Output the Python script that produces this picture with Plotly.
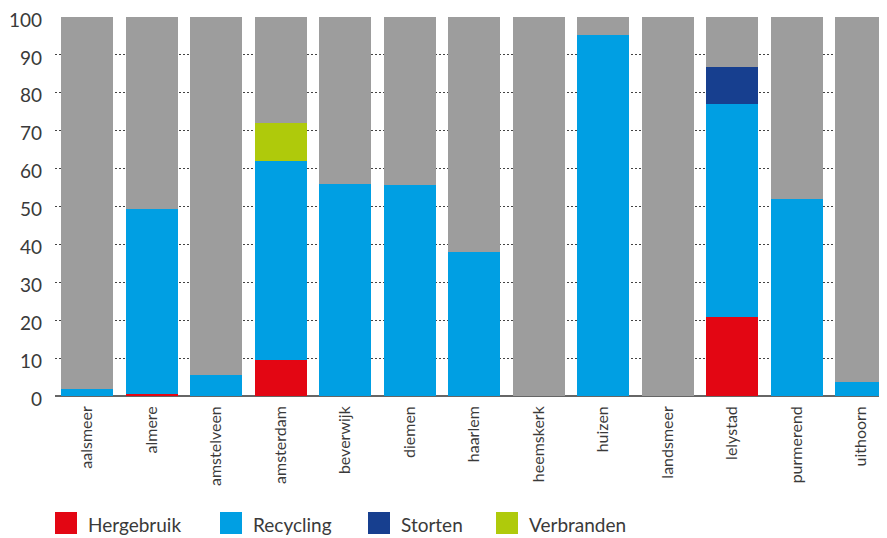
import plotly.graph_objects as go

categories = ["aalsmeer", "almere", "amstelveen", "amsterdam", "beverwijk", "diemen",
              "haarlem", "heemskerk", "huizen", "landsmeer", "lelystad", "purmerend", "uithoorn"]
hergebruik = [0, 0.4, 0, 9.5, 0, 0, 0, 0, 0, 0, 20.8, 0, 0]
recycling = [1.8, 48.9, 5.5, 52.5, 56.0, 55.8, 38.0, 0, 95.2, 0, 56.2, 52.0, 3.8]
storten = [0, 0, 0, 0, 0, 0, 0, 0, 0, 0, 9.8, 0, 0]
verbranden = [0, 0, 0, 10.0, 0, 0, 0, 0, 0, 0, 0, 0, 0]
rest = [round(100 - a - b - c - d, 2) for a, b, c, d in zip(hergebruik, recycling, storten, verbranden)]

series_names = ["Hergebruik", "Recycling", "Storten", "Verbranden"]
colors = ["#e30613", "#009fe3", "#173f8f", "#afca0b"]
rest_color = "#9d9d9d"
yticks = list(range(0, 101, 10))

FONT = "Lato"
OFF = 8  # page body margin
W, H = 887 - OFF, 538 - OFF
ML, MT = 55 - OFF, 17 - OFF
MR = 0
MB = H - (396 - OFF)

fig = go.Figure()
for name, vals, col in zip(series_names, [hergebruik, recycling, storten, verbranden], colors):
    fig.add_trace(go.Bar(x=categories, y=vals, name=name, marker=dict(color=col, line=dict(width=0)),
                         showlegend=False))
fig.add_trace(go.Bar(x=categories, y=rest, name="overig", marker=dict(color=rest_color, line=dict(width=0)),
                     showlegend=False))

# manual legend (screen pixel -> paper helpers)
pw = W - ML - MR
ph = H - MT - MB
def px(x):
    return (x - OFF - ML) / pw
def py(y):
    return (H - MB - (y - OFF)) / ph

legend_sq = [55, 220, 368, 496]
for xs, name, col in zip(legend_sq, series_names, colors):
    fig.add_shape(type="rect", xref="paper", yref="paper",
                  x0=px(xs), x1=px(xs + 22), y0=py(534), y1=py(512),
                  fillcolor=col, line=dict(width=0))
    fig.add_annotation(xref="paper", yref="paper", x=px(xs + 31), y=py(524),
                       text=name, showarrow=False, xanchor="left", yanchor="middle",
                       font=dict(family=FONT, size=19, color="#3a3a3a"))

fig.update_layout(
    barmode="stack",
    bargap=0.19,
    width=W, height=H,
    margin=dict(l=ML, r=MR, t=MT, b=MB, pad=0, autoexpand=False),
    plot_bgcolor="white", paper_bgcolor="white",
    font=dict(family=FONT, color="#3a3a3a"),
    showlegend=False,
)
fig.update_xaxes(range=[-0.5, 12.4], tickangle=-90, tickfont=dict(size=16, color="#3a3a3a"),
                 showgrid=False, showline=False, ticks="", ticklabelstandoff=6, automargin=False)
fig.update_yaxes(range=[0, 100], tickvals=yticks, tickfont=dict(size=19, color="#3a3a3a"),
                 showgrid=True, gridcolor="#444444", griddash="2px,2px", gridwidth=1,
                 zeroline=True, zerolinecolor="#666666", zerolinewidth=2,
                 showline=False, ticks="", ticklabelstandoff=12, ticklabelshift=3,
                 ticklabeloverflow="allow", automargin=False)

fig.write_html("out.html")
